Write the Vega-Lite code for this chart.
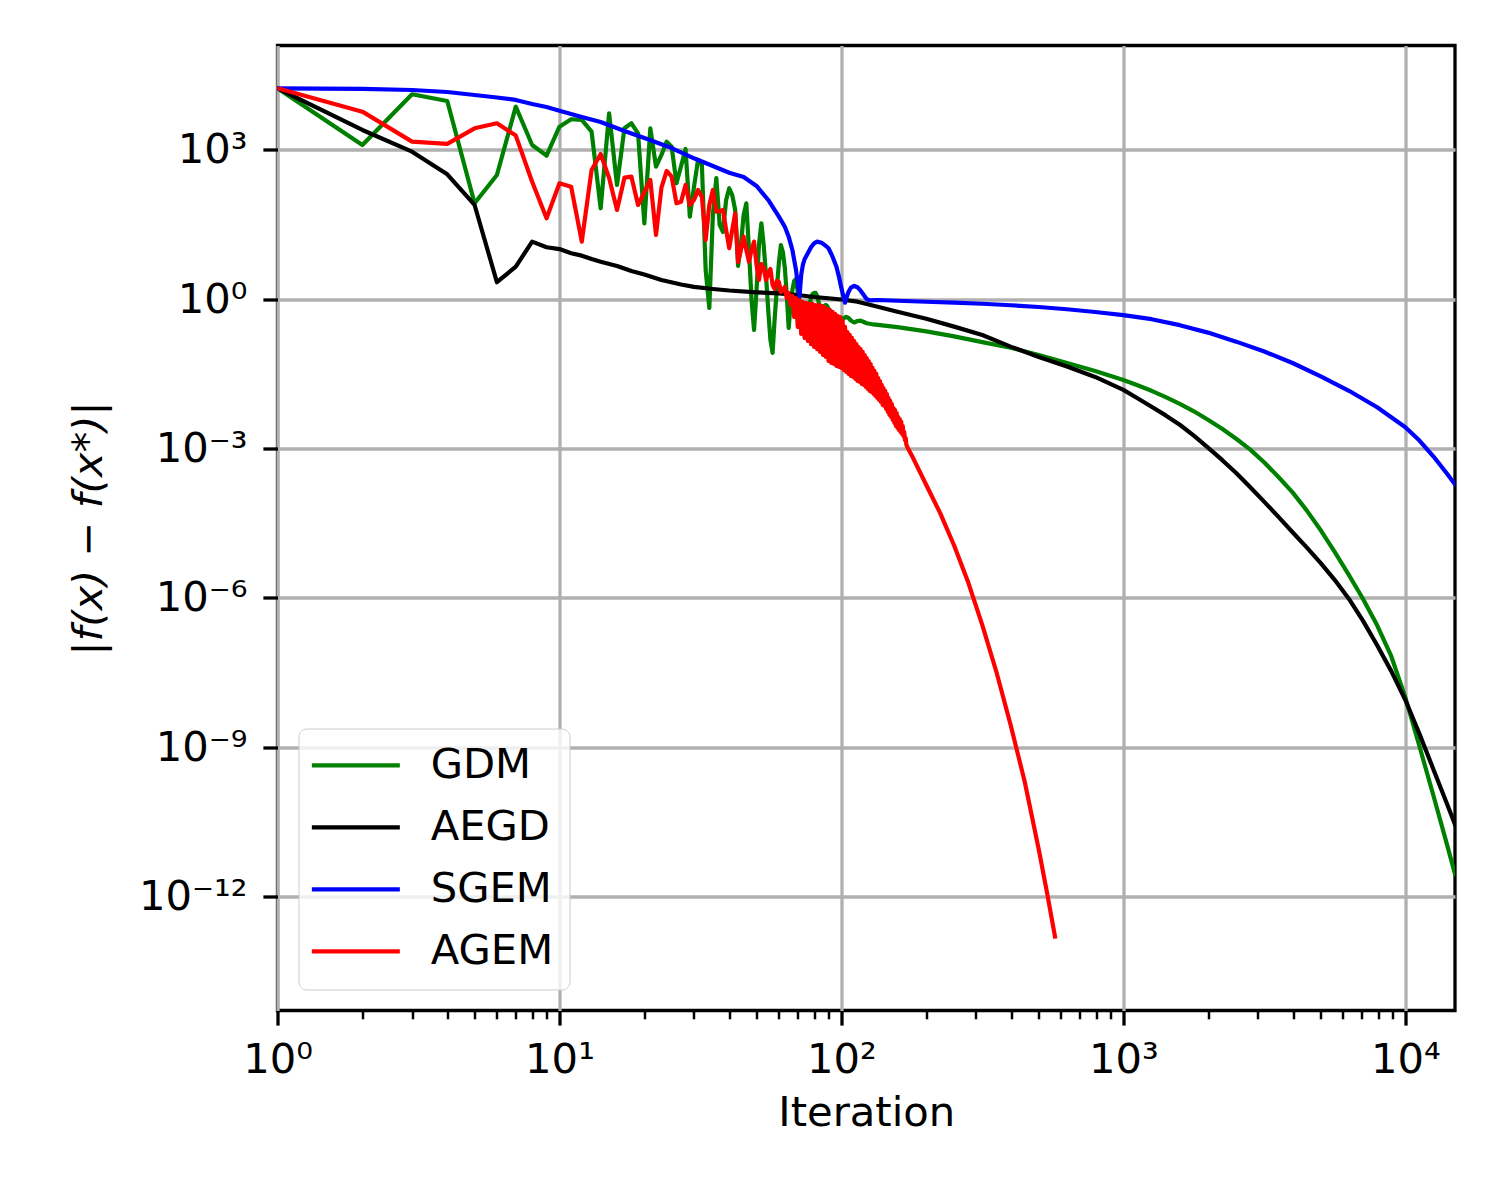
{
"$schema": "https://vega.github.io/schema/vega-lite/v6.json",
"width": 1177.5,
"height": 965,
"autosize": {"type": "none"},
"padding": {"left": 277.5, "top": 45.5, "right": 45, "bottom": 189.5},
"background": "white",
"config": {
  "font": "DejaVu Sans",
  "view": {"stroke": "#000000", "strokeWidth": 3.3},
  "axis": {"domain": false, "labelFont": "DejaVu Sans", "labelFontSize": 41.7, "labelColor": "#000000", "titleFont": "DejaVu Sans", "titleFontSize": 41.7, "titleFontWeight": "normal", "titleColor": "#000000", "tickColor": "#000000", "tickWidth": 3.3, "tickSize": 14.6, "gridColor": "#b0b0b0", "gridWidth": 3.3, "gridOpacity": 1, "labelFlush": false, "labelOverlap": false, "labelBound": false}
},
"data": {"values": [
{"s":"GDM","n":1,"v":1.73e4},{"s":"GDM","n":2,"v":1258},{"s":"GDM","n":3,"v":1.312e4},{"s":"GDM","n":4,"v":9630},{"s":"GDM","n":5,"v":84.8},{"s":"GDM","n":6,"v":314},{"s":"GDM","n":7,"v":7400},{"s":"GDM","n":8,"v":1258},{"s":"GDM","n":9,"v":767},{"s":"GDM","n":10,"v":2930},
{"s":"GDM","n":11,"v":4130},{"s":"GDM","n":12,"v":4000},{"s":"GDM","n":13,"v":2330},{"s":"GDM","n":14,"v":67.3},{"s":"GDM","n":15,"v":5450},{"s":"GDM","n":16,"v":198},{"s":"GDM","n":17,"v":2720},{"s":"GDM","n":18,"v":3430},{"s":"GDM","n":19,"v":2160},{"s":"GDM","n":20,"v":33.6},
{"s":"GDM","n":21,"v":2720},{"s":"GDM","n":22,"v":461},{"s":"GDM","n":23,"v":792},{"s":"GDM","n":24,"v":1470},{"s":"GDM","n":25,"v":1160},{"s":"GDM","n":26,"v":214},{"s":"GDM","n":27,"v":476},{"s":"GDM","n":28,"v":1045},{"s":"GDM","n":29,"v":45.6},{"s":"GDM","n":30,"v":180},
{"s":"GDM","n":31,"v":629},{"s":"GDM","n":32,"v":499},{"s":"GDM","n":33,"v":3.88},{"s":"GDM","n":34,"v":0.669},{"s":"GDM","n":35,"v":49.4},{"s":"GDM","n":36,"v":273},{"s":"GDM","n":37,"v":31.1},{"s":"GDM","n":38,"v":22.5},{"s":"GDM","n":39,"v":98.8},{"s":"GDM","n":40,"v":170},
{"s":"GDM","n":41,"v":124},{"s":"GDM","n":42,"v":62.2},{"s":"GDM","n":43,"v":4.67},{"s":"GDM","n":44,"v":12.3},{"s":"GDM","n":45,"v":49.4},{"s":"GDM","n":46,"v":84.8},{"s":"GDM","n":47,"v":9.78},{"s":"GDM","n":48,"v":0.968},{"s":"GDM","n":49,"v":0.242},{"s":"GDM","n":50,"v":1.54},
{"s":"GDM","n":51,"v":12.3},{"s":"GDM","n":52,"v":33.6},{"s":"GDM","n":53,"v":12.3},{"s":"GDM","n":54,"v":3.08},{"s":"GDM","n":55,"v":0.61},{"s":"GDM","n":56,"v":0.152},{"s":"GDM","n":57,"v":0.0834},{"s":"GDM","n":58,"v":0.421},{"s":"GDM","n":59,"v":1.61},{"s":"GDM","n":60,"v":5.36},
{"s":"GDM","n":61,"v":12.3},{"s":"GDM","n":62,"v":8.91},{"s":"GDM","n":63,"v":4.26},{"s":"GDM","n":64,"v":1.22},{"s":"GDM","n":65,"v":0.265},{"s":"GDM","n":66,"v":0.768},{"s":"GDM","n":67,"v":1.54},{"s":"GDM","n":68,"v":2.33},{"s":"GDM","n":69,"v":2.56},{"s":"GDM","n":70,"v":1.4},
{"s":"GDM","n":71,"v":0.968},{"s":"GDM","n":72,"v":0.61},{"s":"GDM","n":73,"v":0.484},{"s":"GDM","n":74,"v":0.462},{"s":"GDM","n":75,"v":0.507},{"s":"GDM","n":76,"v":0.556},{"s":"GDM","n":77,"v":0.768},{"s":"GDM","n":78,"v":1.06},{"s":"GDM","n":79,"v":1.28},{"s":"GDM","n":80,"v":1.34},
{"s":"GDM","n":81,"v":1.34},{"s":"GDM","n":82,"v":1.17},{"s":"GDM","n":83,"v":0.883},{"s":"GDM","n":84,"v":0.7},{"s":"GDM","n":85,"v":0.61},{"s":"GDM","n":86,"v":0.638},{"s":"GDM","n":87,"v":0.734},{"s":"GDM","n":88,"v":0.768},{"s":"GDM","n":89,"v":0.734},{"s":"GDM","n":90,"v":0.638},
{"s":"GDM","n":92,"v":0.531},{"s":"GDM","n":94,"v":0.441},{"s":"GDM","n":96,"v":0.384},{"s":"GDM","n":98,"v":0.358},{"s":"GDM","n":100,"v":0.366},{"s":"GDM","n":102,"v":0.421},{"s":"GDM","n":104,"v":0.441},{"s":"GDM","n":106,"v":0.421},{"s":"GDM","n":108,"v":0.375},{"s":"GDM","n":111,"v":0.342},
{"s":"GDM","n":114,"v":0.366},{"s":"GDM","n":117,"v":0.372},{"s":"GDM","n":120,"v":0.35},{"s":"GDM","n":123,"v":0.33},{"s":"GDM","n":130,"v":0.312},{"s":"GDM","n":158,"v":0.275},{"s":"GDM","n":200,"v":0.226},{"s":"GDM","n":251,"v":0.18},{"s":"GDM","n":316,"v":0.138},{"s":"GDM","n":398,"v":0.106},
{"s":"GDM","n":501,"v":0.0759},{"s":"GDM","n":631,"v":0.0525},{"s":"GDM","n":794,"v":0.0363},{"s":"GDM","n":1000,"v":0.024},{"s":"GDM","n":1122,"v":0.0188},{"s":"GDM","n":1259,"v":0.0145},{"s":"GDM","n":1413,"v":0.0108},{"s":"GDM","n":1585,"v":7.94e-3},{"s":"GDM","n":1778,"v":5.62e-3},{"s":"GDM","n":1995,"v":3.8e-3},
{"s":"GDM","n":2239,"v":2.51e-3},{"s":"GDM","n":2512,"v":1.58e-3},{"s":"GDM","n":2818,"v":9.55e-4},{"s":"GDM","n":3162,"v":5.25e-4},{"s":"GDM","n":3548,"v":2.69e-4},{"s":"GDM","n":3981,"v":1.32e-4},{"s":"GDM","n":4467,"v":5.75e-5},{"s":"GDM","n":5012,"v":2.29e-5},{"s":"GDM","n":5623,"v":8.32e-6},{"s":"GDM","n":6310,"v":2.88e-6},
{"s":"GDM","n":7079,"v":9.55e-7},{"s":"GDM","n":7943,"v":2.82e-7},{"s":"GDM","n":8913,"v":6.76e-8},{"s":"GDM","n":10000,"v":1.0e-8},{"s":"GDM","n":11220,"v":1.05e-9},{"s":"GDM","n":12589,"v":1.05e-10},{"s":"GDM","n":14125,"v":1.0e-11},{"s":"GDM","n":15000,"v":2.82e-12},
{"s":"AEGD","n":1,"v":1.73e4},{"s":"AEGD","n":2,"v":2520},{"s":"AEGD","n":3,"v":923},{"s":"AEGD","n":4,"v":324},{"s":"AEGD","n":5,"v":78.4},{"s":"AEGD","n":6,"v":2.2},{"s":"AEGD","n":7,"v":4.52},{"s":"AEGD","n":8,"v":14.4},{"s":"AEGD","n":9,"v":11.1},{"s":"AEGD","n":10,"v":10.2},
{"s":"AEGD","n":11,"v":8.4},{"s":"AEGD","n":12,"v":7.52},{"s":"AEGD","n":13,"v":6.45},{"s":"AEGD","n":14,"v":5.69},{"s":"AEGD","n":16,"v":4.67},{"s":"AEGD","n":18,"v":3.7},{"s":"AEGD","n":20,"v":3.15},{"s":"AEGD","n":23,"v":2.44},{"s":"AEGD","n":27,"v":1.98},{"s":"AEGD","n":30,"v":1.77},
{"s":"AEGD","n":35,"v":1.61},{"s":"AEGD","n":40,"v":1.5},{"s":"AEGD","n":50,"v":1.38},{"s":"AEGD","n":60,"v":1.31},{"s":"AEGD","n":70,"v":1.22},{"s":"AEGD","n":80,"v":1.11},{"s":"AEGD","n":90,"v":1.05},{"s":"AEGD","n":100,"v":0.991},{"s":"AEGD","n":114,"v":0.895},{"s":"AEGD","n":126,"v":0.776},
{"s":"AEGD","n":158,"v":0.562},{"s":"AEGD","n":200,"v":0.407},{"s":"AEGD","n":251,"v":0.282},{"s":"AEGD","n":316,"v":0.191},{"s":"AEGD","n":398,"v":0.112},{"s":"AEGD","n":501,"v":0.0692},{"s":"AEGD","n":631,"v":0.0447},{"s":"AEGD","n":794,"v":0.0275},{"s":"AEGD","n":1000,"v":0.0151},{"s":"AEGD","n":1122,"v":0.0103},
{"s":"AEGD","n":1259,"v":6.92e-3},{"s":"AEGD","n":1413,"v":4.65e-3},{"s":"AEGD","n":1585,"v":3.02e-3},{"s":"AEGD","n":1778,"v":1.82e-3},{"s":"AEGD","n":1995,"v":1.05e-3},{"s":"AEGD","n":2239,"v":5.92e-4},{"s":"AEGD","n":2512,"v":3.24e-4},{"s":"AEGD","n":2818,"v":1.68e-4},{"s":"AEGD","n":3162,"v":8.51e-5},{"s":"AEGD","n":3548,"v":4.25e-5},
{"s":"AEGD","n":3981,"v":2.09e-5},{"s":"AEGD","n":4467,"v":1.04e-5},{"s":"AEGD","n":5012,"v":5.01e-6},{"s":"AEGD","n":5623,"v":2.29e-6},{"s":"AEGD","n":6310,"v":9.55e-7},{"s":"AEGD","n":7079,"v":3.47e-7},{"s":"AEGD","n":7943,"v":1.12e-7},{"s":"AEGD","n":8913,"v":3.39e-8},{"s":"AEGD","n":10000,"v":8.91e-9},{"s":"AEGD","n":11220,"v":1.86e-9},
{"s":"AEGD","n":12589,"v":3.55e-10},{"s":"AEGD","n":14125,"v":6.76e-11},{"s":"AEGD","n":15000,"v":2.82e-11},
{"s":"SGEM","n":1,"v":1.73e4},{"s":"SGEM","n":2,"v":1.68e4},{"s":"SGEM","n":3,"v":1.6e4},{"s":"SGEM","n":4,"v":1.46e4},{"s":"SGEM","n":5,"v":1.27e4},{"s":"SGEM","n":6,"v":1.13e4},{"s":"SGEM","n":7,"v":1.01e4},{"s":"SGEM","n":8,"v":8380},{"s":"SGEM","n":9,"v":7290},{"s":"SGEM","n":10,"v":6150},
{"s":"SGEM","n":12,"v":4590},{"s":"SGEM","n":14,"v":3650},{"s":"SGEM","n":17,"v":2410},{"s":"SGEM","n":20,"v":1740},{"s":"SGEM","n":25,"v":1090},{"s":"SGEM","n":30,"v":679},{"s":"SGEM","n":35,"v":476},{"s":"SGEM","n":40,"v":349},{"s":"SGEM","n":45,"v":286},{"s":"SGEM","n":50,"v":189},
{"s":"SGEM","n":55,"v":98.8},{"s":"SGEM","n":60,"v":45.6},{"s":"SGEM","n":63,"v":28.7},{"s":"SGEM","n":65,"v":18.1},{"s":"SGEM","n":67,"v":9.78},{"s":"SGEM","n":68,"v":6.15},{"s":"SGEM","n":69,"v":3.88},{"s":"SGEM","n":70,"v":2.1},{"s":"SGEM","n":71,"v":1.13},{"s":"SGEM","n":72,"v":3.08},
{"s":"SGEM","n":73,"v":4.89},{"s":"SGEM","n":74,"v":6.36},{"s":"SGEM","n":76,"v":8.4},{"s":"SGEM","n":78,"v":11.1},{"s":"SGEM","n":80,"v":13.3},{"s":"SGEM","n":82,"v":14.4},{"s":"SGEM","n":85,"v":13.7},{"s":"SGEM","n":88,"v":11.8},{"s":"SGEM","n":90,"v":10.6},{"s":"SGEM","n":93,"v":7.17},
{"s":"SGEM","n":96,"v":4.52},{"s":"SGEM","n":98,"v":2.84},{"s":"SGEM","n":100,"v":1.66},{"s":"SGEM","n":102,"v":1.05},{"s":"SGEM","n":103,"v":0.855},{"s":"SGEM","n":104,"v":1.05},{"s":"SGEM","n":106,"v":1.42},{"s":"SGEM","n":108,"v":1.71},{"s":"SGEM","n":111,"v":1.85},{"s":"SGEM","n":114,"v":1.74},
{"s":"SGEM","n":117,"v":1.49},{"s":"SGEM","n":120,"v":1.22},{"s":"SGEM","n":123,"v":1.0},{"s":"SGEM","n":126,"v":0.954},{"s":"SGEM","n":135,"v":0.968},{"s":"SGEM","n":158,"v":0.933},{"s":"SGEM","n":200,"v":0.891},{"s":"SGEM","n":251,"v":0.855},{"s":"SGEM","n":316,"v":0.813},{"s":"SGEM","n":398,"v":0.759},
{"s":"SGEM","n":501,"v":0.7},{"s":"SGEM","n":631,"v":0.631},{"s":"SGEM","n":794,"v":0.556},{"s":"SGEM","n":1000,"v":0.479},{"s":"SGEM","n":1259,"v":0.398},{"s":"SGEM","n":1585,"v":0.302},{"s":"SGEM","n":1995,"v":0.214},{"s":"SGEM","n":2512,"v":0.141},{"s":"SGEM","n":3162,"v":0.0891},{"s":"SGEM","n":3981,"v":0.0525},
{"s":"SGEM","n":5012,"v":0.0282},{"s":"SGEM","n":6310,"v":0.0145},{"s":"SGEM","n":7943,"v":6.76e-3},{"s":"SGEM","n":10000,"v":2.69e-3},{"s":"SGEM","n":11220,"v":1.45e-3},{"s":"SGEM","n":12589,"v":6.92e-4},{"s":"SGEM","n":14125,"v":3.02e-4},{"s":"SGEM","n":15000,"v":1.91e-4},
{"s":"AGEM","n":1,"v":1.73e4},{"s":"AGEM","n":2,"v":5870},{"s":"AGEM","n":3,"v":1470},{"s":"AGEM","n":4,"v":1320},{"s":"AGEM","n":5,"v":2720},{"s":"AGEM","n":6,"v":3430},{"s":"AGEM","n":7,"v":1940},{"s":"AGEM","n":8,"v":230},{"s":"AGEM","n":9,"v":42.4},{"s":"AGEM","n":10,"v":214},
{"s":"AGEM","n":11,"v":183},{"s":"AGEM","n":12,"v":14.4},{"s":"AGEM","n":13,"v":396},{"s":"AGEM","n":14,"v":829},{"s":"AGEM","n":15,"v":273},{"s":"AGEM","n":16,"v":62.2},{"s":"AGEM","n":17,"v":277},{"s":"AGEM","n":18,"v":290},{"s":"AGEM","n":19,"v":78.4},{"s":"AGEM","n":20,"v":143},
{"s":"AGEM","n":21,"v":249},{"s":"AGEM","n":22,"v":19.6},{"s":"AGEM","n":23,"v":175},{"s":"AGEM","n":24,"v":378},{"s":"AGEM","n":25,"v":290},{"s":"AGEM","n":26,"v":84.8},{"s":"AGEM","n":27,"v":91.4},{"s":"AGEM","n":28,"v":198},{"s":"AGEM","n":29,"v":78.4},{"s":"AGEM","n":30,"v":98.8},
{"s":"AGEM","n":31,"v":157},{"s":"AGEM","n":32,"v":114},{"s":"AGEM","n":33,"v":15.5},{"s":"AGEM","n":34,"v":78.4},{"s":"AGEM","n":35,"v":157},{"s":"AGEM","n":36,"v":57.5},{"s":"AGEM","n":37,"v":59.4},{"s":"AGEM","n":38,"v":62.2},{"s":"AGEM","n":39,"v":24.7},{"s":"AGEM","n":40,"v":10.6},
{"s":"AGEM","n":41,"v":24.7},{"s":"AGEM","n":42,"v":53.4},{"s":"AGEM","n":43,"v":5.61},{"s":"AGEM","n":44,"v":9.78},{"s":"AGEM","n":45,"v":18.1},{"s":"AGEM","n":46,"v":9.78},{"s":"AGEM","n":47,"v":5.69},{"s":"AGEM","n":48,"v":9.78},{"s":"AGEM","n":49,"v":14.4},{"s":"AGEM","n":50,"v":4.89},
{"s":"AGEM","n":51,"v":2.44},{"s":"AGEM","n":52,"v":5.12},{"s":"AGEM","n":53,"v":4.26},{"s":"AGEM","n":54,"v":2.44},{"s":"AGEM","n":55,"v":3.38},{"s":"AGEM","n":56,"v":4.06},{"s":"AGEM","n":57,"v":1.94},{"s":"AGEM","n":58,"v":1.61},{"s":"AGEM","n":59,"v":2.33},{"s":"AGEM","n":60,"v":2.23},
{"s":"AGEM","n":61,"v":1.4},{"s":"AGEM","n":62,"v":1.54},{"s":"AGEM","n":63,"v":1.77},{"s":"AGEM","n":64,"v":1.06},{"s":"AGEM","n":65,"v":1.34},{"s":"AGEM","n":66,"v":0.768},{"s":"AGEM","n":67,"v":1.17},{"s":"AGEM","n":68,"v":0.441},{"s":"AGEM","n":69,"v":1.06},{"s":"AGEM","n":70,"v":0.278},
{"s":"AGEM","n":71,"v":0.968},{"s":"AGEM","n":72,"v":0.201},{"s":"AGEM","n":73,"v":0.883},{"s":"AGEM","n":74,"v":0.167},{"s":"AGEM","n":75,"v":0.843},{"s":"AGEM","n":76,"v":0.145},{"s":"AGEM","n":77,"v":0.805},{"s":"AGEM","n":78,"v":0.126},{"s":"AGEM","n":79,"v":0.805},{"s":"AGEM","n":80,"v":0.11},
{"s":"AGEM","n":81,"v":0.768},{"s":"AGEM","n":82,"v":0.1},{"s":"AGEM","n":83,"v":0.768},{"s":"AGEM","n":84,"v":0.0874},{"s":"AGEM","n":85,"v":0.734},{"s":"AGEM","n":86,"v":0.076},{"s":"AGEM","n":87,"v":0.7},{"s":"AGEM","n":88,"v":0.0693},{"s":"AGEM","n":89,"v":0.638},{"s":"AGEM","n":90,"v":0.0576},
{"s":"AGEM","n":91,"v":0.61},{"s":"AGEM","n":92,"v":0.0525},{"s":"AGEM","n":93,"v":0.556},{"s":"AGEM","n":94,"v":0.0501},{"s":"AGEM","n":95,"v":0.507},{"s":"AGEM","n":96,"v":0.0457},{"s":"AGEM","n":97,"v":0.462},{"s":"AGEM","n":98,"v":0.0437},{"s":"AGEM","n":99,"v":0.441},{"s":"AGEM","n":100,"v":0.0417},
{"s":"AGEM","n":101,"v":0.366},{"s":"AGEM","n":102,"v":0.038},{"s":"AGEM","n":103,"v":0.278},{"s":"AGEM","n":104,"v":0.0346},{"s":"AGEM","n":105,"v":0.22},{"s":"AGEM","n":106,"v":0.0316},{"s":"AGEM","n":107,"v":0.192},{"s":"AGEM","n":108,"v":0.0288},{"s":"AGEM","n":109,"v":0.167},{"s":"AGEM","n":110,"v":0.0275},
{"s":"AGEM","n":111,"v":0.145},{"s":"AGEM","n":112,"v":0.0251},{"s":"AGEM","n":113,"v":0.126},{"s":"AGEM","n":114,"v":0.0228},{"s":"AGEM","n":115,"v":0.11},{"s":"AGEM","n":116,"v":0.0218},{"s":"AGEM","n":117,"v":0.1},{"s":"AGEM","n":118,"v":0.0199},{"s":"AGEM","n":119,"v":0.0874},{"s":"AGEM","n":120,"v":0.019},
{"s":"AGEM","n":121,"v":0.076},{"s":"AGEM","n":122,"v":0.0173},{"s":"AGEM","n":123,"v":0.0662},{"s":"AGEM","n":124,"v":0.0158},{"s":"AGEM","n":125,"v":0.0576},{"s":"AGEM","n":126,"v":0.0144},{"s":"AGEM","n":127,"v":0.0501},{"s":"AGEM","n":128,"v":0.0137},{"s":"AGEM","n":129,"v":0.0417},{"s":"AGEM","n":130,"v":0.0125},
{"s":"AGEM","n":131,"v":0.0363},{"s":"AGEM","n":132,"v":0.0114},{"s":"AGEM","n":133,"v":0.0316},{"s":"AGEM","n":134,"v":0.0104},{"s":"AGEM","n":135,"v":0.0262},{"s":"AGEM","n":136,"v":9.49e-3},{"s":"AGEM","n":137,"v":0.0228},{"s":"AGEM","n":138,"v":8.65e-3},{"s":"AGEM","n":139,"v":0.019},{"s":"AGEM","n":140,"v":7.53e-3},
{"s":"AGEM","n":141,"v":0.0165},{"s":"AGEM","n":142,"v":7.19e-3},{"s":"AGEM","n":143,"v":0.0144},{"s":"AGEM","n":144,"v":6.25e-3},{"s":"AGEM","n":145,"v":0.0125},{"s":"AGEM","n":146,"v":5.45e-3},{"s":"AGEM","n":147,"v":0.0104},{"s":"AGEM","n":148,"v":4.74e-3},{"s":"AGEM","n":149,"v":9.06e-3},{"s":"AGEM","n":150,"v":4.32e-3},
{"s":"AGEM","n":151,"v":7.88e-3},{"s":"AGEM","n":152,"v":3.76e-3},{"s":"AGEM","n":153,"v":6.55e-3},{"s":"AGEM","n":154,"v":3.27e-3},{"s":"AGEM","n":155,"v":5.97e-3},{"s":"AGEM","n":156,"v":2.85e-3},{"s":"AGEM","n":157,"v":5.2e-3},{"s":"AGEM","n":158,"v":2.6e-3},{"s":"AGEM","n":159,"v":4.32e-3},{"s":"AGEM","n":160,"v":2.37e-3},
{"s":"AGEM","n":161,"v":3.94e-3},{"s":"AGEM","n":162,"v":2.16e-3},{"s":"AGEM","n":163,"v":3.43e-3},{"s":"AGEM","n":164,"v":1.97e-3},{"s":"AGEM","n":165,"v":2.85e-3},{"s":"AGEM","n":166,"v":1.79e-3},{"s":"AGEM","n":167,"v":2.16e-3},{"s":"AGEM","n":168,"v":1.49e-3},{"s":"AGEM","n":169,"v":1.64e-3},{"s":"AGEM","n":170,"v":1.18e-3},
{"s":"AGEM","n":172,"v":1.03e-3},{"s":"AGEM","n":178,"v":7.13e-4},{"s":"AGEM","n":200,"v":1.86e-4},{"s":"AGEM","n":224,"v":5.05e-5},{"s":"AGEM","n":251,"v":1.13e-5},{"s":"AGEM","n":282,"v":2.01e-6},{"s":"AGEM","n":316,"v":2.84e-7},{"s":"AGEM","n":355,"v":3.18e-8},{"s":"AGEM","n":398,"v":2.84e-9},{"s":"AGEM","n":447,"v":2.01e-10},
{"s":"AGEM","n":501,"v":8.91e-12},{"s":"AGEM","n":536,"v":1.2e-12},{"s":"AGEM","n":572,"v":1.58e-13}
]},
"encoding": {
  "y": {"field": "v", "type": "quantitative",
    "scale": {"type": "log", "domain": [5.16e-15, 1.253e5], "nice": false},
    "axis": {"values": [1e-12, 1e-9, 1e-6, 0.001, 1, 1000], "grid": true,
      "labelExpr": "datum.value >= 999 ? '10³' : datum.value >= 0.99 ? '10⁰' : datum.value >= 9e-4 ? '10⁻³' : datum.value >= 9e-7 ? '10⁻⁶' : datum.value >= 9e-10 ? '10⁻⁹' : '10⁻¹²'",
      "labelPadding": 16, "title": "|f(x) − f(x*)|", "titleFontStyle": "italic", "titlePadding": 28}},
  "color": {"field": "s", "type": "nominal",
    "scale": {"domain": ["GDM", "AEGD", "SGEM", "AGEM"], "range": ["#008000", "#000000", "#0000ff", "#ff0000"]},
    "legend": {"title": null, "orient": "bottom-left", "offset": 20.8,
      "symbolType": "M-2.444,0H2.444", "symbolSize": 1296, "symbolStrokeWidth": 4.2,
      "labelFont": "DejaVu Sans", "labelFontSize": 41.7, "labelColor": "#000000", "labelLimit": 400,
      "rowPadding": 19, "padding": 16, "symbolOffset": 20.5, "labelOffset": 54,
      "fillColor": "rgba(255,255,255,0.8)", "strokeColor": "#cccccc", "cornerRadius": 8}}
},
"layer": [
  {"transform": [{"filter": "datum.s === 'GDM'"}],
   "mark": {"type": "line", "strokeWidth": 4.2, "clip": true, "strokeJoin": "round", "strokeCap": "square"},
   "encoding": {"x": {"field": "n", "type": "quantitative", "scale": {"type": "log", "domain": [1, 15000], "nice": false},
     "axis": {"orient": "bottom", "values": [1, 10, 100, 1000, 10000], "grid": true,
       "labelExpr": "datum.value >= 9999 ? '10⁴' : datum.value >= 999 ? '10³' : datum.value >= 99 ? '10²' : datum.value >= 9 ? '10¹' : '10⁰'",
       "labelPadding": 14, "title": "Iteration", "titlePadding": 12}}}},
  {"transform": [{"filter": "datum.s === 'AEGD'"}],
   "mark": {"type": "line", "strokeWidth": 4.2, "clip": true, "strokeJoin": "round", "strokeCap": "square"},
   "encoding": {"x": {"field": "n", "type": "quantitative", "scale": {"type": "log", "domain": [1, 15000], "nice": false},
     "axis": {"orient": "bottom", "values": [2,3,4,5,6,7,8,9,20,30,40,50,60,70,80,90,200,300,400,500,600,700,800,900,2000,3000,4000,5000,6000,7000,8000,9000],
       "labels": false, "grid": false, "title": null, "tickSize": 8.3, "tickWidth": 2.5}}}},
  {"transform": [{"filter": "datum.s === 'SGEM'"}],
   "mark": {"type": "line", "strokeWidth": 4.2, "clip": true, "strokeJoin": "round", "strokeCap": "square"},
   "encoding": {"x": {"field": "n", "type": "quantitative", "scale": {"type": "log", "domain": [1, 15000], "nice": false}, "axis": null}}},
  {"transform": [{"filter": "datum.s === 'AGEM'"}],
   "mark": {"type": "line", "strokeWidth": 4.2, "clip": true, "strokeJoin": "round", "strokeCap": "square"},
   "encoding": {"x": {"field": "n", "type": "quantitative", "scale": {"type": "log", "domain": [1, 15000], "nice": false}, "axis": null}}}
],
"resolve": {"axis": {"x": "independent"}}
}
